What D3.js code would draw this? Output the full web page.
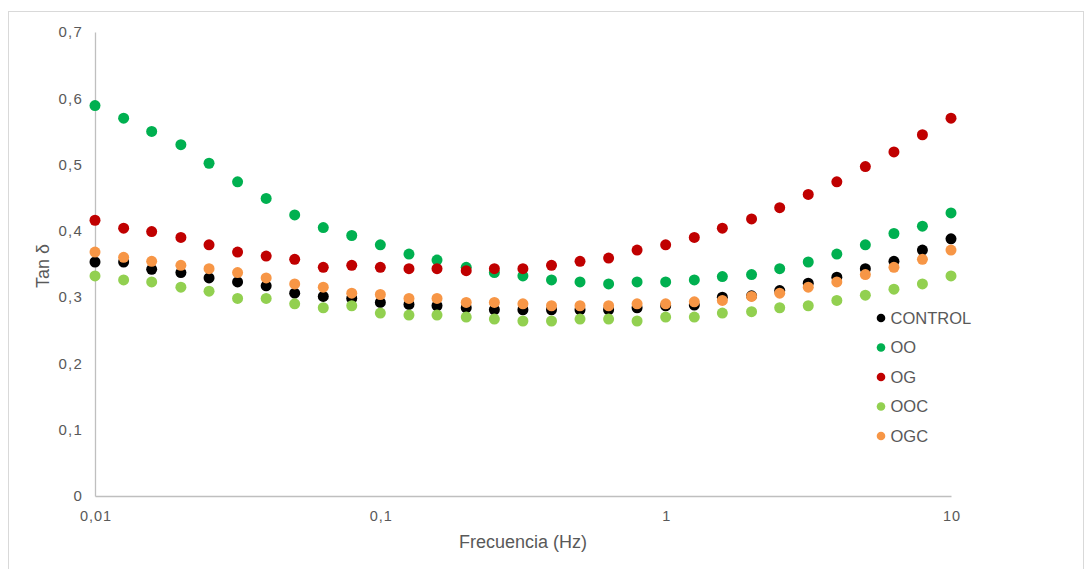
<!DOCTYPE html>
<html>
<head>
<meta charset="utf-8">
<script src="https://cdn.jsdelivr.net/npm/d3@7"></script>
<style>
  body { margin: 0; background: #fff; }
  svg text { font-family: "Liberation Sans", Arial, sans-serif; fill: #595959; }
</style>
</head>
<body>
<div id="chart"></div>
<script>
// frequencies: 10 points per decade, 0.01 .. 10 Hz
const freqs = [0.01, 0.0126, 0.0158, 0.02, 0.0251, 0.0316, 0.0398, 0.0501, 0.0631, 0.0794,
  0.1, 0.126, 0.158, 0.2, 0.251, 0.316, 0.398, 0.501, 0.631, 0.794,
  1, 1.26, 1.58, 2, 2.51, 3.16, 3.98, 5.01, 6.31, 7.94, 10];

const control = [0.353, 0.353, 0.342, 0.337, 0.329, 0.323, 0.317, 0.306, 0.301, 0.298,
  0.292, 0.289, 0.287, 0.284, 0.281, 0.281, 0.281, 0.281, 0.281, 0.284,
  0.287, 0.288, 0.300, 0.302, 0.310, 0.321, 0.330, 0.343, 0.354, 0.371, 0.388];
const oo = [0.589, 0.570, 0.550, 0.530, 0.502, 0.474, 0.449, 0.424, 0.405, 0.393,
  0.379, 0.365, 0.356, 0.345, 0.337, 0.332, 0.326, 0.323, 0.320, 0.323,
  0.323, 0.326, 0.331, 0.334, 0.343, 0.353, 0.365, 0.379, 0.396, 0.407, 0.427];
const og = [0.416, 0.404, 0.399, 0.390, 0.379, 0.368, 0.362, 0.357, 0.345, 0.348,
  0.345, 0.343, 0.343, 0.340, 0.343, 0.343, 0.348, 0.354, 0.359, 0.371,
  0.379, 0.390, 0.404, 0.418, 0.435, 0.455, 0.474, 0.497, 0.519, 0.545, 0.570];
const ooc = [0.332, 0.326, 0.323, 0.315, 0.309, 0.298, 0.298, 0.290, 0.284, 0.287,
  0.276, 0.273, 0.273, 0.270, 0.267, 0.264, 0.264, 0.267, 0.267, 0.264,
  0.270, 0.270, 0.276, 0.278, 0.284, 0.287, 0.295, 0.303, 0.312, 0.320, 0.332];
const ogc = [0.368, 0.360, 0.354, 0.348, 0.343, 0.337, 0.329, 0.320, 0.315, 0.306,
  0.304, 0.298, 0.298, 0.292, 0.292, 0.290, 0.287, 0.287, 0.287, 0.290,
  0.290, 0.293, 0.295, 0.301, 0.306, 0.315, 0.323, 0.334, 0.345, 0.357, 0.371];

const seriesNames = ['CONTROL', 'OO', 'OG', 'OOC', 'OGC'];
const seriesColors = ['#000000', '#00B050', '#C00000', '#92D050', '#F79646'];
const seriesValues = [control, oo, og, ooc, ogc];

const xTicks = [0.01, 0.1, 1, 10];
const xTickLabels = ['0,01', '0,1', '1', '10'];
const yTicks = [0, 0.1, 0.2, 0.3, 0.4, 0.5, 0.6, 0.7];

const width = 1091, height = 569;
const margin = { top: 32, right: 140, bottom: 73, left: 95 };

const svg = d3.select('#chart').append('svg')
  .attr('width', width)
  .attr('height', height);

// outer chart border
svg.append('rect')
  .attr('x', 8.5).attr('y', 11.5)
  .attr('width', 1075).attr('height', 580)
  .attr('fill', 'none')
  .attr('stroke', '#d9d9d9');

const x = d3.scaleLog().domain([0.01, 10]).range([margin.left, width - margin.right]);
const y = d3.scaleLinear().domain([0, 0.7]).range([height - margin.bottom, margin.top]);

const locale = d3.formatLocale({ decimal: ',', thousands: '.', grouping: [3], currency: ['', '€'] });
const yFmt = v => v === 0 ? '0' : locale.format('.1f')(v);

// axes
const gx = svg.append('g')
  .attr('transform', 'translate(0,' + y(0) + ')')
  .call(d3.axisBottom(x).tickValues(xTicks).tickSize(0).tickPadding(15)
    .tickFormat((d, i) => xTickLabels[i]));
gx.select('.domain').attr('stroke', '#bfbfbf').attr('stroke-width', 1.3);
gx.selectAll('text').attr('font-size', 14.5).attr('letter-spacing', 1)
  .attr('dx', 0.5).style('fill', '#595959');

const gy = svg.append('g')
  .attr('transform', 'translate(' + x(0.01) + ',0)')
  .call(d3.axisLeft(y).tickValues(yTicks).tickSize(0).tickPadding(12).tickFormat(yFmt));
gy.select('.domain').attr('stroke', '#bfbfbf').attr('stroke-width', 1.3);
gy.selectAll('text').attr('font-size', 15).attr('letter-spacing', 1.2)
  .style('fill', '#595959');

// axis titles
svg.append('text')
  .attr('x', 523)
  .attr('y', 548)
  .attr('text-anchor', 'middle')
  .attr('font-size', 18)
  .text('Frecuencia (Hz)');

svg.append('text')
  .attr('transform', 'translate(48.5,266) rotate(-90)')
  .attr('text-anchor', 'middle')
  .attr('font-size', 18)
  .text('Tan δ');

// points
const plotG = svg.append('g');
seriesNames.forEach((name, s) => {
  plotG.append('g').selectAll('circle')
    .data(seriesValues[s].map((v, i) => ({ f: freqs[i], v: v })))
    .enter()
    .append('circle')
    .attr('cx', d => x(d.f))
    .attr('cy', d => y(d.v))
    .attr('r', 5.5)
    .attr('fill', seriesColors[s]);
});

// legend
const legend = svg.append('g').attr('transform', 'translate(881,318)');
const item = legend.selectAll('g').data(seriesNames).enter().append('g')
  .attr('transform', (d, i) => 'translate(0,' + i * 29.5 + ')');
item.append('circle').attr('r', 4.3).attr('fill', (d, i) => seriesColors[i]);
item.append('text')
  .attr('x', 9.5).attr('dy', '0.36em')
  .attr('font-size', 16.5)
  .text(d => d);
</script>
</body>
</html>
